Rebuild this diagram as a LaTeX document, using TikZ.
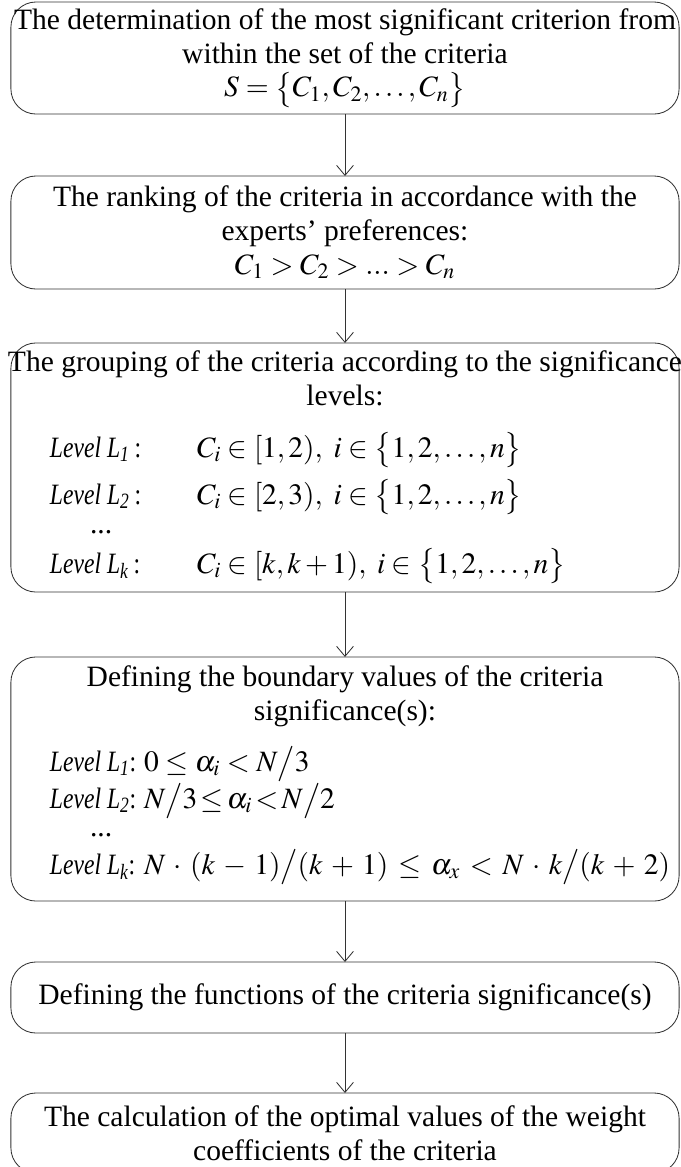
\documentclass[tikz,border=0pt]{standalone}
\usepackage{mathptmx}
\usepackage[no-math]{fontspec}
\setmainfont{Liberation Serif}
\newfontfamily\levelfont[FakeStretch=0.8]{Liberation Serif}
\usetikzlibrary{positioning, arrows.meta}

\begin{document}
\begin{tikzpicture}[x=0.025cm, y=-0.025cm,
    stepbox/.style={draw=black!80, line width=0.6pt, rounded corners=0.625cm, minimum width=16.7cm, inner sep=0pt, outer sep=0pt, align=center, font=\fontsize{21}{24}\selectfont},
    txt/.style={inner sep=0pt, outer sep=0pt, font=\fontsize{21}{24}\selectfont},
    lvl/.style={inner sep=0pt, outer sep=0pt, anchor=base west, font=\fontsize{21}{24}\levelfont\itshape},
    flow/.style={draw=black!80, line width=0.6pt, -{Straight Barb[length=0.25cm, width=0.42cm]}},
]
\useasboundingbox (0,0) rectangle (680,1167);

% Step 1: most significant criterion
\node[stepbox, minimum height=2.8cm] (b1) at (345,58) {The determination of the most significant criterion from\\ within the set of the criteria\\ $S=\bigl\{C_1,C_2,\ldots,C_n\bigr\}$};

% Step 2: ranking
\node[stepbox, minimum height=2.825cm] (b2) at (345,232.5) {The ranking of the criteria in accordance with the\\ experts' preferences:\\ $C_1 > C_2 > ... > C_n$};

% Step 3: grouping by levels
\node[stepbox, minimum height=6.225cm] (b3) at (345,467.5) {};
\node[txt, align=center] (t3) at (345,378) {The grouping of the criteria according to the significance\\ levels:};
\node[lvl] (l31) at (50,457) {Level L\textsubscript{1}\upshape\,:};
\node[txt, anchor=base west] (m31) at (197,457) {$C_i \in [1,2),\ i \in \bigl\{1,2,\ldots,n\bigr\}$};
\node[lvl] (l32) at (50,504) {Level L\textsubscript{2}\upshape\,:};
\node[txt, anchor=base west] (m32) at (197,504) {$C_i \in [2,3),\ i \in \bigl\{1,2,\ldots,n\bigr\}$};
\node[txt, anchor=base west] (d3) at (90,533) {...};
\node[lvl] (l3k) at (50,573) {Level L\textsubscript{k}\upshape\,:};
\node[txt, anchor=base west] (m3k) at (197,573) {$C_i \in [k,k+1),\ i \in \bigl\{1,2,\ldots,n\bigr\}$};

% Step 4: boundary values
\node[stepbox, minimum height=6.1cm] (b4) at (345,779) {};
\node[txt, align=center] (t4) at (345,696) {Defining the boundary values of the criteria\\ significance(s):};
\node[lvl] (l41) at (50,771) {Level L\textsubscript{1}\upshape:};
\node[txt, anchor=base west] (m41) at (144,771) {$0 \le \alpha_i < N\big/3$};
\node[lvl] (l42) at (50,808) {Level L\textsubscript{2}\upshape:};
\node[txt, anchor=base west] (m42) at (144,808) {\thickmuskip=2mu $N\big/3 \le \alpha_i < N\big/2$};
\node[txt, anchor=base west] (d4) at (90,836) {...};
\node[lvl] (l4k) at (50,874) {Level L\textsubscript{k}\upshape:};
\node[txt, anchor=base west] (m4k) at (144,874) {\medmuskip=5mu \thickmuskip=6mu $N\cdot(k-1)\big/(k+1) \le \alpha_x < N\cdot k\big/(k+2)$};

% Step 5 and 6
\node[stepbox, minimum height=1.775cm] (b5) at (345,997.5) {Defining the functions of the criteria significance(s)};
\node[stepbox, minimum height=2cm] (b6) at (345,1133) {The calculation of the optimal values of the weight\\ coefficients of the criteria};

% Arrows
\draw[flow] (b1) -- (b2);
\draw[flow] (b2) -- (b3);
\draw[flow] (b3) -- (b4);
\draw[flow] (b4) -- (b5);
\draw[flow] (b5) -- (b6);

\end{tikzpicture}
\end{document}
